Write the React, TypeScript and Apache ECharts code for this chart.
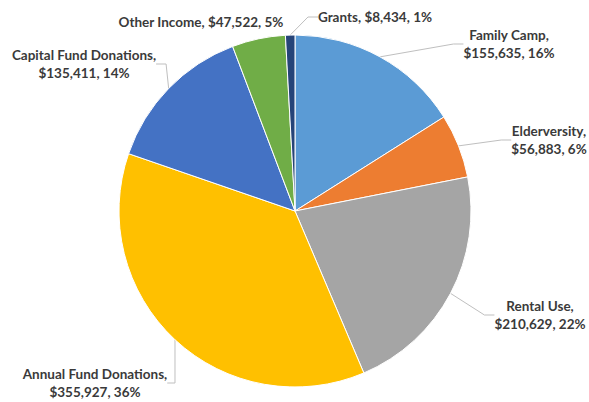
import React, { useEffect, useRef } from "react";
import * as echarts from "echarts";

const categories = [
  "Family Camp",
  "Elderversity",
  "Rental Use",
  "Annual Fund Donations",
  "Capital Fund Donations",
  "Other Income",
  "Grants",
];
const values = [155635, 56883, 210629, 355927, 135411, 47522, 8434];
const percentLabels = [16, 6, 22, 36, 14, 5, 1];
const colors = ["#5B9BD5", "#ED7D31", "#A5A5A5", "#FFC000", "#4472C4", "#70AD47", "#264478"];

// label placement (center of text block) and whether it wraps
const labelPlaces = [
  { x: 509, y: 44, wrap: true, line: true },
  { x: 549, y: 140, wrap: true, line: true },
  { x: 540, y: 315, wrap: true, line: true },
  { x: 95, y: 383, wrap: true, line: true },
  { x: 84, y: 64, wrap: true, line: true },
  { x: 201, y: 22, wrap: false, line: false },
  { x: 375, y: 17, wrap: false, line: true },
];

export default function App() {
  const ref = useRef<HTMLDivElement>(null);
  useEffect(() => {
    document.body.style.margin = "0";
    const chart = echarts.init(ref.current!, undefined, { renderer: "svg" });
    chart.setOption({
      animation: false,
      backgroundColor: "#ffffff",
      series: [
        {
          type: "pie",
          center: [295, 211],
          radius: 176,
          startAngle: 90,
          clockwise: true,
          avoidLabelOverlap: false,
          itemStyle: { borderColor: "#ffffff", borderWidth: 1 },
          label: {
            show: true,
            position: "outside",
            fontFamily: "Lato",
            fontWeight: "bold",
            fontSize: 13.5,
            lineHeight: 18,
            color: "#3a3a3a",
            align: "center",
            formatter: (p: any) => {
              const i = p.dataIndex;
              const sep = labelPlaces[i].wrap ? ",\n" : ", ";
              return `${p.name}${sep}$${p.value.toLocaleString("en-US")}, ${percentLabels[i]}%`;
            },
          },
          labelLine: {
            show: true,
            length: 12,
            length2: 10,
            lineStyle: { color: "#bfbfbf", width: 1 },
          },
          labelLayout: (params: any) => {
            const lp = labelPlaces[params.dataIndex];
            return { x: lp.x, y: lp.y, align: "center", verticalAlign: "middle" };
          },
          data: categories.map((name, i) => ({
            name,
            value: values[i],
            itemStyle: { color: colors[i] },
            labelLine: { show: labelPlaces[i].line },
          })),
        },
      ],
    });
    return () => chart.dispose();
  }, []);
  return <div ref={ref} style={{ width: 589, height: 402 }} />;
}
